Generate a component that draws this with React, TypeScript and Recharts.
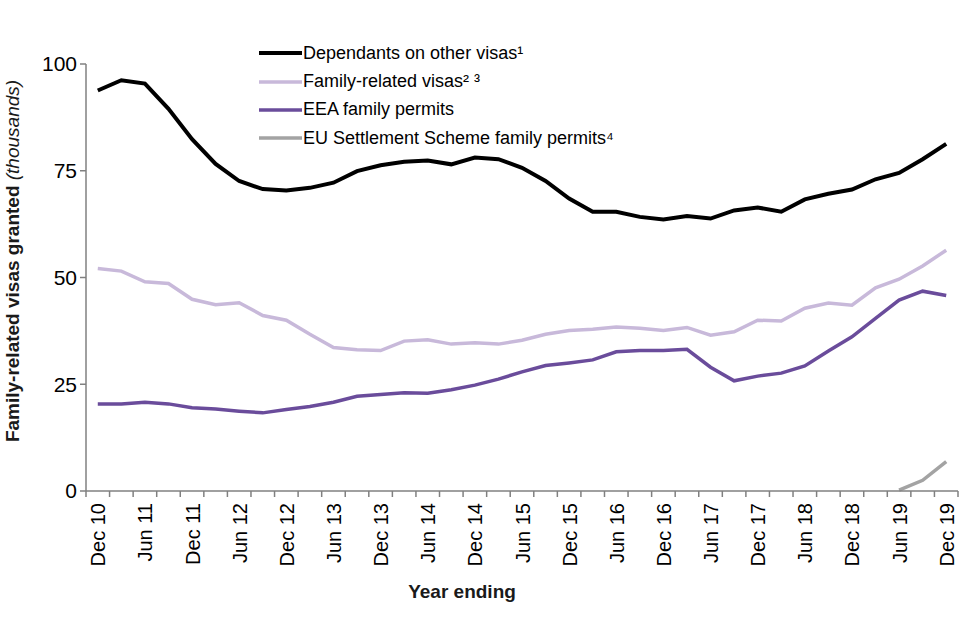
import React from "react";
import { LineChart, Line, XAxis, YAxis, Legend } from "recharts";

// year ending, quarterly
const QUARTERS = [
  "Dec 10", "Mar 11", "Jun 11", "Sep 11", "Dec 11", "Mar 12", "Jun 12", "Sep 12", "Dec 12",
  "Mar 13", "Jun 13", "Sep 13", "Dec 13", "Mar 14", "Jun 14", "Sep 14", "Dec 14",
  "Mar 15", "Jun 15", "Sep 15", "Dec 15", "Mar 16", "Jun 16", "Sep 16", "Dec 16",
  "Mar 17", "Jun 17", "Sep 17", "Dec 17", "Mar 18", "Jun 18", "Sep 18", "Dec 18",
  "Mar 19", "Jun 19", "Sep 19", "Dec 19",
];

const DEPENDANTS = [
  93.8, 96.2, 95.4, 89.5, 82.4, 76.6, 72.6, 70.7, 70.4, 71.0,
  72.2, 74.9, 76.3, 77.1, 77.4, 76.5, 78.1, 77.7, 75.7, 72.6,
  68.5, 65.4, 65.4, 64.2, 63.6, 64.4, 63.8, 65.7, 66.4, 65.4,
  68.3, 69.6, 70.6, 73.0, 74.5, 77.7, 81.3,
];

const FAMILY_RELATED = [
  52.1, 51.5, 49.0, 48.6, 44.9, 43.6, 44.1, 41.1, 40.0, 36.7,
  33.6, 33.1, 32.9, 35.1, 35.4, 34.4, 34.7, 34.4, 35.3, 36.7,
  37.6, 37.9, 38.4, 38.1, 37.6, 38.3, 36.5, 37.3, 40.0, 39.8,
  42.8, 44.0, 43.5, 47.6, 49.6, 52.7, 56.4,
];

const EEA = [
  20.4, 20.4, 20.8, 20.4, 19.5, 19.2, 18.7, 18.3, 19.1, 19.8,
  20.8, 22.2, 22.6, 23.0, 22.9, 23.7, 24.8, 26.2, 27.9, 29.4,
  30.0, 30.7, 32.6, 32.9, 32.9, 33.2, 29.0, 25.8, 26.9, 27.6,
  29.3, 32.8, 36.1, 40.4, 44.7, 46.8, 45.8,
];

// EU Settlement Scheme only from Jun 19
const EUSS: (number | null)[] = [
  null, null, null, null, null, null, null, null, null, null,
  null, null, null, null, null, null, null, null, null, null,
  null, null, null, null, null, null, null, null, null, null,
  null, null, null, null, 0.2, 2.5, 6.9,
];

const Y_TICKS = [0, 25, 50, 75, 100];

const SERIES = [
  { key: "dependants", name: "Dependants on other visas¹", color: "#000000", width: 4 },
  { key: "family", name: "Family-related visas² ³", color: "#c8b9da", width: 3.5 },
  { key: "eea", name: "EEA family permits", color: "#6a4c9b", width: 3.5 },
  { key: "euss", name: "EU Settlement Scheme family permits⁴", color: "#a3a3a3", width: 3.5 },
];

const data = QUARTERS.map((q, i) => ({
  i,
  quarter: q,
  dependants: DEPENDANTS[i],
  family: FAMILY_RELATED[i],
  eea: EEA[i],
  euss: EUSS[i],
}));

// tick lines sit between quarters, labels on every other quarter (Dec / Jun)
const boundaryTicks = [...QUARTERS.map((_, i) => i - 0.5), QUARTERS.length - 0.5];
const labelTicks = QUARTERS.map((_, i) => i).filter((i) => i % 2 === 0);
const X_TICKS = [...boundaryTicks, ...labelTicks].sort((a, b) => a - b);

const FONT = "'Liberation Sans', Arial, sans-serif";

function XTick({ x, y, payload }: any) {
  const v = payload.value;
  if (!Number.isInteger(v)) {
    return <line x1={x} x2={x} y1={y} y2={y + 6} stroke="#808080" strokeWidth={1.5} />;
  }
  return (
    <text
      transform={`translate(${x + 7.5},${y + 12}) rotate(-90)`}
      textAnchor="end"
      fontSize={20}
      fill="#000"
      fontFamily={FONT}
    >
      {QUARTERS[v]}
    </text>
  );
}

function LegendBox() {
  return (
    <div style={{ fontFamily: FONT, fontSize: 18, color: "#000" }}>
      {SERIES.map((s) => (
        <div key={s.key} style={{ display: "flex", alignItems: "center", height: 28.4, whiteSpace: "nowrap" }}>
          <svg width={43} height={10} style={{ marginRight: 1 }}>
            <line x1={0} x2={43} y1={5} y2={5} stroke={s.color} strokeWidth={s.width} />
          </svg>
          <span>{s.name}</span>
        </div>
      ))}
    </div>
  );
}

export default function App() {
  return (
    <div style={{ position: "absolute", left: 0, top: 0, width: 960, height: 640, background: "#fff" }}>
      <LineChart
        width={960}
        height={640}
        data={data}
        margin={{ top: 64, right: 2, left: 0, bottom: 0 }}
        style={{ fontFamily: FONT }}
      >
        <XAxis
          dataKey="i"
          type="number"
          domain={[-0.5, QUARTERS.length - 0.5]}
          ticks={X_TICKS}
          interval={0}
          height={149}
          tickLine={false}
          tickSize={0}
          tickMargin={0}
          axisLine={{ stroke: "#808080", strokeWidth: 1.5 }}
          tick={<XTick />}
        />
        <YAxis
          type="number"
          domain={[0, 100]}
          ticks={Y_TICKS}
          width={86}
          tickSize={6}
          tickMargin={3}
          axisLine={{ stroke: "#808080", strokeWidth: 1.5 }}
          tickLine={{ stroke: "#808080", strokeWidth: 1.5 }}
          tick={{ fill: "#000", fontSize: 21 }}
        />
        <Legend
          layout="vertical"
          align="center"
          verticalAlign="middle"
          content={<LegendBox />}
          wrapperStyle={{ top: 39, left: 259, width: "auto" }}
        />
        {SERIES.map((s) => (
          <Line
            key={s.key}
            dataKey={s.key}
            name={s.name}
            type="linear"
            stroke={s.color}
            strokeWidth={s.width}
            dot={false}
            activeDot={false}
            connectNulls={false}
            isAnimationActive={false}
          />
        ))}
      </LineChart>
      <svg
        width={960}
        height={640}
        style={{ position: "absolute", left: 0, top: 0, pointerEvents: "none" }}
      >
        <text x={462} y={598} textAnchor="middle" fontSize={19} fontWeight="bold" fill="#1a1a1a" fontFamily={FONT}>
          Year ending
        </text>
        <text transform="translate(19,261) rotate(-90)" textAnchor="middle" fontSize={19} fill="#1a1a1a" fontFamily={FONT}>
          <tspan fontWeight="bold">Family-related visas granted </tspan>
          <tspan fontStyle="italic">(thousands)</tspan>
        </text>
      </svg>
    </div>
  );
}
